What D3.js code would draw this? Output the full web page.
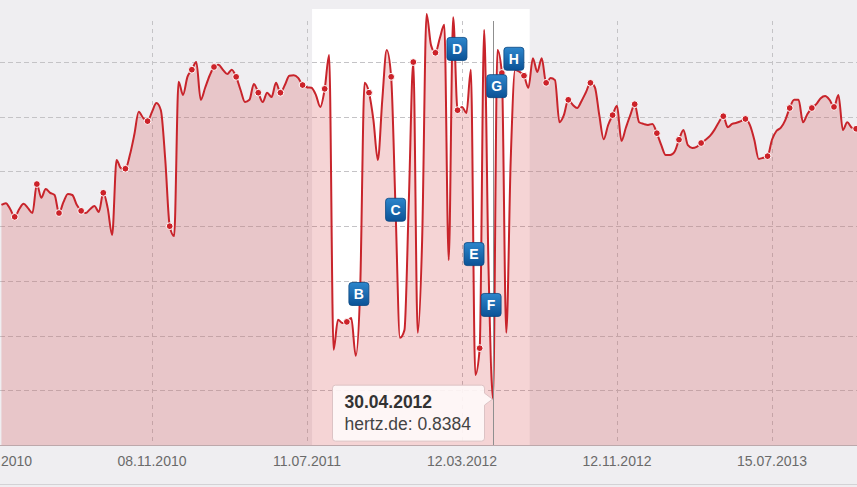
<!DOCTYPE html>
<html>
<head>
<meta charset="utf-8">
<script src="https://cdn.jsdelivr.net/npm/d3@7/dist/d3.min.js"></script>
<style>
  html, body { margin: 0; padding: 0; background: #efeef1; }
  svg { display: block; font-family: "Liberation Sans", Arial, Helvetica, sans-serif; }
</style>
</head>
<body>
<div id="chart"></div>
<script>
// weekly visibility values for hertz.de, first week 15.03.2010
const firstWeek = '2010-03-15';
const hertzValues = [
  4.39, 4.42, 4.31, 4.17, 4.31, 4.41, 4.33, 4.24, 4.77, 4.52,
  4.68, 4.61, 4.57, 4.24, 4.44, 4.59, 4.57, 4.39, 4.28, 4.24,
  4.31, 4.37, 4.26, 4.61, 4.33, 3.84, 5.21, 5.06, 5.05, 5.30,
  5.67, 6.09, 5.98, 5.92, 6.09, 6.25, 6.12, 5.21, 4.00, 3.82,
  6.64, 6.40, 6.73, 6.86, 7.00, 6.31, 6.53, 6.75, 6.91, 6.95,
  6.86, 6.78, 6.86, 6.73, 6.49, 6.27, 6.31, 6.60, 6.44, 6.27,
  6.44, 6.36, 6.62, 6.44, 6.58, 6.75, 6.76, 6.71, 6.58, 6.54,
  6.53, 6.40, 6.18, 6.51, 7.13, 1.74, 2.29, 2.23, 2.25, 2.32,
  1.63, 2.83, 6.62, 6.44, 5.94, 5.21, 6.31, 7.22, 6.73, 4.30,
  1.96, 2.10, 4.48, 7.00, 2.05, 3.75, 7.88, 7.31, 7.17, 7.44,
  7.68, 3.38, 7.82, 6.12, 6.18, 6.07, 6.86, 1.28, 1.77, 7.59,
  3.20, 0.8384, 7.22, 6.80, 2.05, 5.21, 6.86, 6.82, 6.75, 6.53,
  7.07, 6.82, 7.07, 6.62, 6.71, 6.67, 5.90, 6.03, 6.31, 6.22,
  6.16, 6.29, 6.45, 6.62, 6.54, 6.03, 5.59, 5.85, 6.03, 6.20,
  5.56, 5.80, 6.03, 6.23, 5.90, 5.87, 5.85, 5.87, 5.70, 5.48,
  5.30, 5.30, 5.36, 5.58, 5.76, 5.48, 5.43, 5.45, 5.52, 5.58,
  5.65, 5.76, 5.90, 6.01, 5.81, 5.87, 5.89, 5.92, 5.96, 5.85,
  5.58, 5.23, 5.25, 5.28, 5.58, 5.74, 5.80, 5.94, 6.16, 6.31,
  6.31, 5.90, 6.05, 6.16, 6.23, 6.34, 6.38, 6.31, 6.18, 6.40,
  5.76, 5.90, 5.80, 5.78, 5.76
];

const tickDates = ['2010-03-08', '2010-11-08', '2011-07-11', '2012-03-12', '2012-11-12', '2013-07-15'];
const gridValues = [1, 2, 3, 4, 5, 6, 7];

const flagLetters = ['B', 'C', 'D', 'E', 'F', 'G', 'H'];
const flagDates = ['2011-10-01', '2011-11-28', '2012-03-04', '2012-03-31', '2012-04-27', '2012-05-06', '2012-06-02'];
const flagValues = [2.76, 4.30, 7.24, 3.49, 2.56, 6.56, 7.06];

const bandDates = ['2011-07-19', '2012-06-27'];

const tooltipDate = '2012-04-30';
const seriesName = 'hertz.de';

const width = 857, height = 487,
  plotTop = 9, plotBottom = 445,
  parseDate = d3.timeParse('%Y-%m-%d'),
  fmtDate = d3.timeFormat('%d.%m.%Y'),
  start = parseDate(firstWeek);

const series = hertzValues.map((v, i) => ({ date: d3.timeDay.offset(start, i * 7), value: v, idx: i }));

const x = d3.scaleTime()
  .domain([parseDate('2010-11-08'), parseDate('2013-07-15')])
  .range([152, 772]);
const y = d3.scaleLinear()
  .domain([0, 7.97])
  .range([plotBottom, plotTop]);

const svg = d3.select('#chart').append('svg')
  .attr('width', width)
  .attr('height', height)
  .attr('viewBox', [0, 0, width, height]);

const defs = svg.append('defs');
defs.append('clipPath').attr('id', 'plotclip')
  .append('rect').attr('x', 0).attr('y', 0).attr('width', width).attr('height', plotBottom);
const grad = defs.append('linearGradient').attr('id', 'flaggrad')
  .attr('x1', 0).attr('x2', 0).attr('y1', 0).attr('y2', 1);
grad.append('stop').attr('offset', '0%').attr('stop-color', '#2d86cc');
grad.append('stop').attr('offset', '100%').attr('stop-color', '#0b5296');

svg.append('rect')
  .attr('width', width).attr('height', height)
  .attr('fill', '#efeef1');

// highlighted period
svg.append('rect')
  .attr('x', x(parseDate(bandDates[0])))
  .attr('y', plotTop)
  .attr('width', x(parseDate(bandDates[1])) - x(parseDate(bandDates[0])))
  .attr('height', plotBottom - plotTop)
  .attr('fill', '#ffffff');

// grid
svg.append('g')
  .selectAll('line')
  .data(gridValues)
  .join('line')
  .attr('x1', 0).attr('x2', width)
  .attr('y1', d => Math.round(y(d)) + 0.5)
  .attr('y2', d => Math.round(y(d)) + 0.5)
  .attr('stroke', '#c4c3c6')
  .attr('stroke-dasharray', '5,3');

svg.append('g')
  .selectAll('line')
  .data(tickDates)
  .join('line')
  .attr('x1', d => Math.round(x(parseDate(d))) + 0.5)
  .attr('x2', d => Math.round(x(parseDate(d))) + 0.5)
  .attr('y1', 21).attr('y2', plotBottom)
  .attr('stroke', '#c4c3c6')
  .attr('stroke-dasharray', '4,4');

const plot = svg.append('g').attr('clip-path', 'url(#plotclip)');

const area = d3.area()
  .curve(d3.curveMonotoneX)
  .x(d => x(d.date))
  .y0(plotBottom)
  .y1(d => y(d.value));
const line = d3.line()
  .curve(d3.curveMonotoneX)
  .x(d => x(d.date))
  .y(d => y(d.value));

plot.append('path')
  .datum(series)
  .attr('d', area)
  .attr('fill', 'rgba(206, 38, 46, 0.2)');

plot.append('path')
  .datum(series)
  .attr('d', line)
  .attr('fill', 'none')
  .attr('stroke', '#c8242b')
  .attr('stroke-width', 2)
  .attr('stroke-linejoin', 'round');

plot.append('g')
  .selectAll('circle')
  .data(series.filter(d => d.idx % 5 === 3))
  .join('circle')
  .attr('cx', d => x(d.date))
  .attr('cy', d => y(d.value))
  .attr('r', 3.4)
  .attr('fill', '#cc2229')
  .attr('stroke', '#ffffff')
  .attr('stroke-width', 1);

// crosshair
const tipPoint = series.find(d => fmtDate(d.date) === fmtDate(parseDate(tooltipDate)));
const tipX = Math.round(x(tipPoint.date)) + 0.5, tipY = y(tipPoint.value);
svg.append('line')
  .attr('x1', tipX).attr('x2', tipX)
  .attr('y1', 21).attr('y2', plotBottom)
  .attr('stroke', '#8f8f8f')
  .attr('stroke-width', 1);

// flags
const flags = flagLetters.map((l, i) => ({ letter: l, date: parseDate(flagDates[i]), value: flagValues[i] }));
const flagG = svg.append('g')
  .selectAll('g')
  .data(flags)
  .join('g')
  .attr('transform', d => `translate(${x(d.date)},${y(d.value)})`);
flagG.append('rect')
  .attr('x', -10).attr('y', -11.5)
  .attr('width', 20).attr('height', 23)
  .attr('rx', 3)
  .attr('fill', 'url(#flaggrad)')
  .attr('stroke', '#0a4680')
  .attr('stroke-width', 0.8);
flagG.append('text')
  .attr('text-anchor', 'middle')
  .attr('y', 5)
  .attr('fill', '#ffffff')
  .attr('font-weight', 'bold')
  .attr('font-size', 14)
  .text(d => d.letter);

// tooltip
const bx = tipX - 161, by = tipY - 14, bw = 152, bh = 56, r = 3;
svg.append('path')
  .attr('d', `M${bx + r},${by} H${bx + bw - r} Q${bx + bw},${by} ${bx + bw},${by + r}
    V${tipY - 6} L${tipX - 1},${tipY} L${bx + bw},${tipY + 6}
    V${by + bh - r} Q${bx + bw},${by + bh} ${bx + bw - r},${by + bh}
    H${bx + r} Q${bx},${by + bh} ${bx},${by + bh - r} V${by + r} Q${bx},${by} ${bx + r},${by} Z`)
  .attr('fill', 'rgba(255, 250, 250, 0.9)')
  .attr('stroke', '#dcc3c5')
  .attr('stroke-width', 1);
svg.append('text')
  .attr('x', bx + 12).attr('y', by + 23)
  .attr('font-size', 17.5)
  .attr('font-weight', 'bold')
  .attr('fill', '#333')
  .text(fmtDate(tipPoint.date));
svg.append('text')
  .attr('x', bx + 12).attr('y', by + 45)
  .attr('font-size', 17.5)
  .attr('fill', '#444')
  .text(`${seriesName}: ${tipPoint.value.toFixed(4)}`);

// axis
svg.append('line')
  .attr('x1', 0).attr('x2', width)
  .attr('y1', plotBottom + 0.5).attr('y2', plotBottom + 0.5)
  .attr('stroke', '#bda8ab');
svg.append('line')
  .attr('x1', 0).attr('x2', width)
  .attr('y1', 484.5).attr('y2', 484.5)
  .attr('stroke', '#d3d2d5');

svg.append('g')
  .selectAll('text')
  .data(tickDates)
  .join('text')
  .attr('x', d => x(parseDate(d)))
  .attr('y', 466)
  .attr('text-anchor', 'middle')
  .attr('font-size', 14)
  .attr('fill', '#6a6a6a')
  .text(d => fmtDate(parseDate(d)));
</script>
</body>
</html>
